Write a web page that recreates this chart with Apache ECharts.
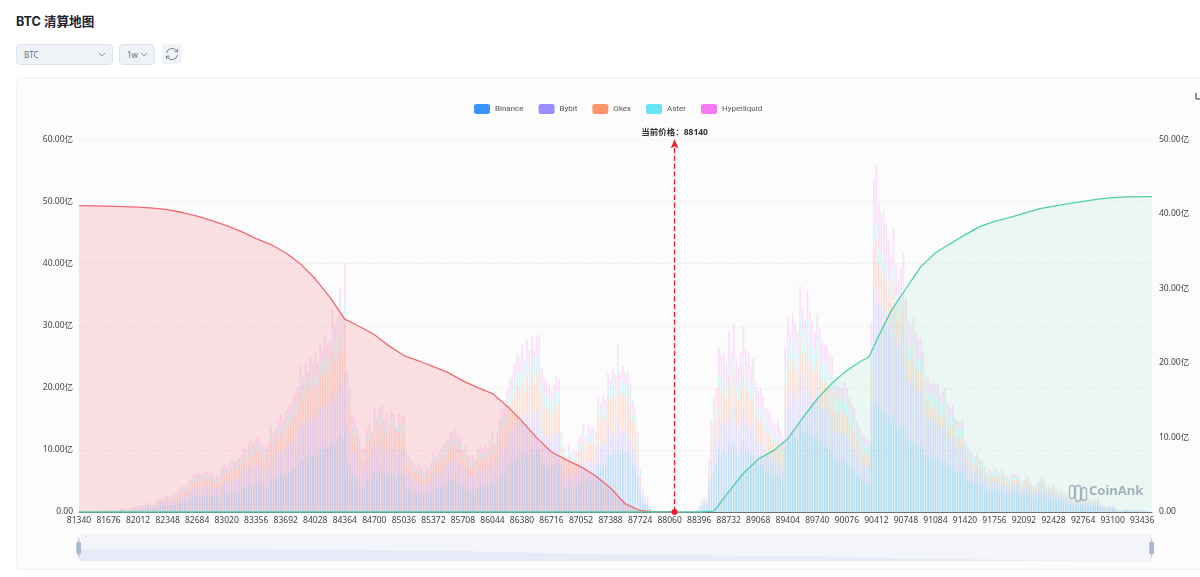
<!DOCTYPE html>
<html lang="zh-CN">
<head>
<meta charset="utf-8">
<title>BTC 清算地图</title>
<script src="https://cdn.jsdelivr.net/npm/echarts@6/dist/echarts.min.js"></script>
<style>
    html, body { margin: 0; padding: 0; background: #fff; overflow: hidden; }
    body { width: 1200px; height: 577px; position: relative; font-family: "Noto Sans", "Noto Sans CJK SC", sans-serif; }
    h1 { position: absolute; left: 16px; top: 13px; margin: 0; font-size: 12.6px; line-height: 18px; font-weight: 700; color: #1a2233; font-family: Inter, "Noto Sans CJK SC", sans-serif; }
    .pick { position: absolute; top: 44px; height: 19px; box-sizing: content-box; background: #eff2f6; border: 1px solid #dde4ee; border-radius: 4px; color: #5f6f88; font-size: 8px; line-height: 19px; }
    .pick span { position: absolute; left: 7px; }
    .pick svg { position: absolute; right: 6px; top: 7px; }
    #coin { left: 16px; width: 95px; }
    #period { left: 119px; width: 34px; }
    #refresh { position: absolute; left: 162px; top: 44px; width: 20px; height: 20px; background: #eff2f6; border-radius: 4px; }
    #card { position: absolute; left: 16px; top: 77px; width: 1200px; height: 491px; background: #fcfcfd; border: 1px solid #f1f2f4; border-radius: 6px; }
    #chart { position: absolute; left: 0; top: 0; width: 1200px; height: 577px; }
</style>
</head>
<body>
<h1>BTC 清算地图</h1>
<div class="pick" id="coin"><span>BTC</span><svg width="8" height="5" viewBox="0 0 8 5"><path d="M1 1l3 3 3-3" fill="none" stroke="#8a97aa"/></svg></div>
<div class="pick" id="period"><span>1w</span><svg width="8" height="5" viewBox="0 0 8 5"><path d="M1 1l3 3 3-3" fill="none" stroke="#8a97aa"/></svg></div>
<div id="refresh"><svg width="20" height="20" viewBox="0 0 20 20"><path d="M4.5 9a5.6 5.6 0 0 1 9.8-2.6l1 1.2M15.5 11a5.6 5.6 0 0 1-9.8 2.6l-1-1.2M15.5 4.8v3h-3M4.5 15.2v-3h3" fill="none" stroke="#66758c" stroke-width="0.9"/></svg></div>
<div id="card"></div>
<div id="chart"></div>
<script>
// Bars: one row per x label step (12 price levels), unit 0.1亿
const binance = [
    0,0,1,1,0,1,1,1,1,1,1,1,
    2,1,2,1,2,3,3,2,2,3,4,5,
    4,5,5,7,6,6,6,7,9,10,9,10,
    11,10,11,12,13,15,17,16,18,21,23,24,
    25,25,24,26,26,25,26,23,24,23,29,31,
    29,31,34,33,32,35,37,42,40,45,46,44,
    47,49,44,42,40,45,56,51,54,58,62,58,
    62,65,67,70,72,76,88,82,90,86,94,90,
    96,92,102,100,106,104,104,118,110,116,124,118,
    132,84,76,60,58,53,47,40,42,52,55,50,
    66,60,65,67,59,63,55,65,62,53,62,60,
    61,39,36,33,31,29,30,28,26,29,27,32,
    39,35,38,40,44,45,47,52,51,54,49,47,
    40,43,36,35,37,34,40,42,39,43,41,46,
    50,43,49,56,61,63,72,78,80,86,90,88,
    94,86,97,92,99,91,99,100,82,76,74,72,
    70,74,80,78,48,40,35,42,37,39,38,46,
    48,55,46,54,52,54,50,76,71,78,74,93,
    90,96,93,112,94,99,95,96,88,76,72,56,
    32,18,12,12,5,0,0,0,0,0,0,0,
    0,0,0,0,0,0,0,0,0,0,0,2,
    4,9,11,10,36,58,72,78,100,97,99,92,
    110,99,114,95,90,98,114,100,97,90,94,80,
    75,77,71,65,64,61,57,56,58,53,47,104,
    122,113,125,119,113,142,129,121,139,125,118,113,
    125,115,107,105,106,100,98,84,81,82,80,84,
    79,74,70,67,59,55,50,49,47,46,110,170,
    175,165,162,163,157,150,142,155,138,130,136,143,
    125,115,112,116,110,107,108,102,88,90,85,87,
    85,85,80,82,84,75,72,74,66,65,64,67,
    55,51,48,47,45,47,43,42,37,33,35,34,
    36,34,32,35,31,29,27,31,31,31,30,24,
    26,30,28,24,21,23,25,29,27,21,23,20,
    23,19,17,18,15,14,12,11,10,12,11,11,
    12,11,12,10,9,11,12,8,6,5,4,5,
    6,4,2,1,2,3,3,2,1,2,2,2,
    2,1,1,0,0
];
const bybit = [
    0,0,0,0,0,0,0,1,0,0,1,1,
    1,1,1,1,1,1,2,1,1,2,2,2,
    3,3,3,4,4,4,3,4,5,6,6,6,
    6,6,7,8,8,10,10,10,11,13,14,15,
    16,15,15,16,16,15,16,14,15,14,18,19,
    18,19,21,20,20,22,23,26,25,28,29,27,
    29,30,27,26,25,28,34,32,34,37,39,37,
    41,43,44,47,48,51,59,55,60,57,63,60,
    63,60,67,65,70,66,68,78,74,76,84,78,
    92,56,50,38,37,34,30,25,26,33,35,32,
    42,37,41,43,37,40,35,41,39,34,39,38,
    39,25,23,21,20,18,19,18,16,18,17,20,
    25,22,24,25,28,28,30,33,32,34,30,30,
    25,27,23,22,23,21,25,26,25,27,26,29,
    32,27,32,36,39,41,47,50,51,55,58,56,
    60,55,62,59,64,58,63,64,52,48,47,46,
    44,46,49,48,29,24,20,25,21,22,22,27,
    25,29,24,28,27,27,26,36,34,36,34,42,
    31,33,32,38,32,34,33,33,30,26,24,19,
    11,6,4,4,2,0,0,0,0,0,0,0,
    0,0,0,0,0,0,0,0,0,0,0,1,
    1,3,4,4,15,26,33,36,47,45,46,43,
    52,47,54,45,42,46,54,47,46,42,44,38,
    35,36,33,30,30,28,26,26,27,24,22,60,
    70,65,72,68,65,81,74,69,79,71,67,65,
    71,66,61,60,60,57,56,47,45,46,45,47,
    44,41,39,37,33,31,28,27,26,26,68,190,
    190,172,168,170,163,154,147,162,145,136,142,150,
    110,97,95,98,90,87,87,80,64,65,60,61,
    58,58,52,54,55,48,46,47,40,39,38,40,
    27,24,22,21,20,21,19,18,16,13,15,14,
    15,14,13,14,13,12,11,13,13,13,12,10,
    11,13,12,10,9,10,11,13,12,9,10,9,
    10,8,7,8,6,6,5,4,4,5,4,5,
    5,4,5,4,4,5,5,3,3,2,2,2,
    2,2,1,1,1,1,1,1,1,1,1,1,
    1,1,0,0,0
];
const okex = [
    0,0,0,0,0,0,0,0,0,0,0,0,
    0,0,0,0,0,1,1,1,1,1,1,2,
    1,1,2,2,2,2,2,3,3,4,4,4,
    4,4,5,5,6,7,7,7,8,9,10,10,
    11,11,10,11,12,11,11,10,10,10,13,14,
    13,14,15,15,14,16,16,19,18,20,21,20,
    21,22,20,19,18,20,25,23,24,27,29,27,
    30,32,33,35,36,38,45,41,46,43,48,46,
    49,46,52,50,55,52,53,65,58,61,72,63,
    80,44,38,28,27,24,22,18,19,24,25,23,
    30,27,30,31,27,29,25,30,28,24,28,27,
    28,18,16,15,14,13,14,13,12,13,12,14,
    18,16,17,18,20,20,21,23,23,24,22,21,
    18,19,16,16,17,15,18,19,18,19,18,21,
    25,21,25,30,33,35,41,45,47,51,55,54,
    58,53,60,56,61,56,61,62,50,46,45,44,
    42,44,47,46,28,22,19,23,20,21,21,25,
    28,32,27,32,31,31,30,43,39,43,41,52,
    56,60,58,70,58,60,58,59,54,47,44,33,
    16,10,6,6,2,0,0,0,0,0,0,0,
    0,0,0,0,0,0,0,0,0,0,0,0,
    2,4,5,4,18,31,39,42,55,53,54,50,
    58,52,60,50,47,52,60,52,51,47,50,42,
    38,40,37,33,33,31,29,28,29,27,24,43,
    50,46,51,49,46,58,53,50,57,51,48,46,
    51,47,44,43,43,41,40,33,32,33,32,33,
    32,29,28,27,24,22,20,20,19,18,50,75,
    75,62,60,60,56,52,48,54,47,42,44,47,
    42,36,35,37,33,32,32,29,24,24,22,23,
    22,22,20,20,21,18,17,18,15,15,14,15,
    13,12,11,11,10,11,9,9,8,7,7,7,
    9,8,8,9,8,7,7,8,8,8,8,6,
    8,9,8,7,6,6,7,8,8,6,6,6,
    6,5,5,5,4,4,3,3,3,3,3,3,
    3,3,3,3,2,3,3,2,1,1,1,1,
    1,1,1,0,0,1,1,0,0,1,0,0,
    1,0,0,0,0
];
const aster = [
    0,0,0,0,0,0,0,0,0,0,0,0,
    0,0,0,0,0,0,0,0,0,0,1,1,
    1,1,1,1,1,1,1,1,2,2,2,2,
    2,2,2,3,3,3,4,4,4,4,5,5,
    5,5,5,5,5,5,5,5,5,4,6,6,
    6,6,7,6,6,7,7,8,8,9,9,9,
    9,10,9,8,8,9,11,10,11,12,13,12,
    13,14,14,15,15,16,19,18,20,18,20,19,
    21,20,23,22,23,22,23,29,26,28,32,27,
    40,20,17,13,12,11,10,8,8,11,12,11,
    14,12,14,14,12,13,11,14,13,11,13,13,
    13,8,7,7,6,6,6,5,5,6,6,7,
    8,7,8,8,9,9,10,11,11,11,10,10,
    8,9,7,7,7,7,8,8,8,9,8,9,
    10,9,11,13,14,15,17,19,20,22,24,24,
    26,24,27,25,27,25,27,28,22,21,20,20,
    18,19,20,20,12,9,8,10,8,9,8,10,
    11,12,10,12,11,12,11,15,14,15,14,18,
    20,21,20,24,20,21,20,21,19,16,15,12,
    6,3,2,2,1,0,0,0,0,0,0,0,
    0,0,0,0,0,0,0,0,0,0,0,0,
    1,2,2,1,6,10,13,14,18,18,18,17,
    20,18,21,18,16,18,21,18,18,16,17,15,
    14,14,13,12,12,11,10,10,10,9,8,28,
    33,30,34,32,30,39,35,33,38,34,32,30,
    34,31,29,28,29,27,26,22,21,21,21,22,
    21,19,18,18,15,14,13,13,12,12,27,27,
    28,26,25,25,24,22,21,23,20,19,20,21,
    25,22,21,22,20,19,19,18,16,17,16,16,
    18,18,17,17,18,16,15,16,14,14,14,14,
    12,11,10,9,9,9,8,8,7,6,6,6,
    6,6,5,6,5,5,4,4,5,4,4,4,
    4,4,4,3,3,3,4,4,4,3,3,3,
    3,3,3,3,3,2,2,2,2,2,2,2,
    2,2,2,2,2,2,2,2,1,1,1,1,
    1,1,0,0,0,0,0,0,0,0,0,0,
    0,0,0,0,0
];
const hyperliquid = [
    0,0,0,0,0,0,0,0,0,0,0,0,
    0,0,0,0,0,0,0,0,0,0,0,0,
    0,0,0,1,1,0,0,1,1,1,1,2,
    3,2,2,2,3,3,4,4,4,5,6,7,
    6,6,6,6,7,6,6,6,6,6,6,7,
    7,8,8,8,8,8,9,11,10,10,10,10,
    12,11,10,11,9,10,13,12,12,14,15,16,
    16,16,16,17,19,19,24,22,24,22,25,23,
    26,22,26,25,30,26,27,37,32,34,48,34,
    56,21,19,16,14,13,11,9,10,12,13,12,
    16,14,15,17,15,15,14,15,16,13,16,14,
    14,8,8,6,7,6,6,6,5,6,6,7,
    8,8,9,9,9,10,10,11,11,12,11,10,
    9,10,8,8,8,8,9,10,8,10,9,10,
    13,10,13,15,18,18,21,23,24,26,28,28,
    30,27,32,30,33,30,33,32,26,24,24,23,
    21,22,24,23,13,10,8,10,9,9,9,12,
    13,15,13,14,14,14,13,18,17,18,17,20,
    18,20,19,28,21,21,19,19,17,15,15,10,
    5,3,2,2,0,0,0,0,0,0,0,0,
    0,0,0,0,0,0,0,0,0,0,0,0,
    0,2,3,3,12,22,27,30,45,42,43,38,
    52,44,54,42,40,44,51,45,44,40,43,35,
    33,33,31,28,27,27,24,23,24,22,19,33,
    38,36,38,37,36,44,39,37,43,39,38,36,
    39,36,32,32,32,30,30,24,23,23,22,24,
    22,21,20,19,16,16,15,13,14,13,50,73,
    90,72,68,69,65,59,55,64,50,46,53,55,
    43,38,37,40,36,34,34,31,24,24,23,23,
    23,23,21,22,22,19,18,17,15,14,14,14,
    8,7,7,7,6,7,6,6,4,4,5,4,
    5,4,4,4,4,3,3,4,4,4,4,3,
    3,4,4,3,3,3,3,4,3,3,3,2,
    3,3,2,2,2,2,2,1,1,1,1,1,
    2,1,1,1,1,1,1,1,1,1,0,1,
    1,0,0,0,0,0,0,0,0,0,0,0,
    0,0,0,0,0
];

// Cumulative lines (亿)
const longPrices = [81340,81508,81676,81844,82012,82180,82348,82516,82684,82852,83020,83188,83356,83524,83692,83860,84028,84196,84364,84532,84700,84868,85036,85204,85372,85540,85708,85876,86044,86212,86380,86548,86716,86884,87052,87220,87388,87556,87724,87892,88060,88144];
const longValues = [41.13,41.1,41.06,41,40.93,40.8,40.6,40.2,39.7,39.1,38.44,37.63,36.7,35.9,34.8,33.3,31.3,28.8,25.9,24.9,23.8,22.3,21,20.3,19.5,18.7,17.6,16.7,15.9,14.2,12.2,9.95,8.06,7,6.05,4.84,3.23,1.08,0.2,0,0,0];
const shortPrices = [81340,88396,88564,88732,88900,89068,89236,89404,89572,89740,89908,90076,90244,90328,90412,90580,90748,90916,91084,91252,91420,91588,91756,91924,92092,92260,92428,92596,92764,92932,93100,93268,93436,93548];
const shortValues = [0,0,0.13,2.7,5.2,7.1,8.2,9.8,12.6,15.2,17.3,19,20.3,20.8,23,27,30,32.9,34.8,36,37.2,38.3,39,39.5,40.1,40.7,41.06,41.4,41.7,42,42.2,42.3,42.33,42.33];

const categories = Array.from({ length: binance.length }, (_, i) => String(81340 + i * 28));
const leftTicks = 60;
const rightTicks = 50;
const currentPrice = 88140;
const currentCategory = '88116';

const fontName = '"Noto Sans", "Noto Sans CJK SC", sans-serif';
const chartDom = document.getElementById('chart');
const myChart = echarts.init(chartDom);

function yiLabel(value) {
    return value === 0 ? '0.00' : value.toFixed(2) + '亿';
}

function barSeries(name, values, color, opacity) {
    return {
        name: name,
        type: 'bar',
        stack: 'liq',
        barWidth: 1.7,
        silent: true,
        itemStyle: { color: color, opacity: opacity },
        data: values.map(v => v / 10)
    };
}

// Slider shadow follows the long cumulative line, stretched over the slider width
const sliderLeft = 79, sliderWidth = 1073, sliderTop = 535, sliderHeight = 26;
const shadowPoints = longValues.map((v, i) => [
    sliderLeft + sliderWidth * i / (longValues.length - 1),
    sliderTop + sliderHeight - v / longValues[0] * 12
]);
shadowPoints.push([sliderLeft + sliderWidth, sliderTop + sliderHeight], [sliderLeft, sliderTop + sliderHeight]);

const option = {
    animation: false,
    textStyle: { fontFamily: fontName },
    legend: {
        left: 469,
        top: 99,
        icon: 'roundRect',
        itemWidth: 16,
        itemHeight: 10,
        itemGap: 15,
        itemStyle: { opacity: 1 },
        textStyle: { fontSize: 8, color: '#555', fontFamily: 'Roboto' },
        data: ['Binance', 'Bybit', 'Okex', 'Aster', 'Hyperliquid']
    },
    grid: { left: 79, right: 48, top: 139.5, bottom: 65 },
    xAxis: {
        type: 'category',
        data: categories,
        boundaryGap: false,
        axisLine: { lineStyle: { color: '#6e7079' } },
        axisTick: { show: false },
        axisLabel: { interval: 11, fontSize: 8.5, color: '#444', margin: 4, fontFamily: fontName }
    },
    yAxis: [{
        type: 'value',
        min: 0,
        max: leftTicks,
        interval: 10,
        axisLabel: { fontSize: 8.5, color: '#444', margin: 6, formatter: yiLabel, fontFamily: fontName },
        splitLine: { lineStyle: { color: '#f1f1f2', type: 'dashed' } }
    }, {
        type: 'value',
        min: 0,
        max: rightTicks,
        interval: 10,
        axisLabel: { fontSize: 8.5, color: '#444', margin: 7, formatter: yiLabel, fontFamily: fontName },
        splitLine: { show: false }
    }],
    dataZoom: [{
        type: 'slider',
        xAxisIndex: 0,
        start: 0,
        end: 100,
        left: 77,
        right: 48,
        top: sliderTop,
        height: sliderHeight,
        brushSelect: false,
        showDetail: false,
        showDataShadow: false,
        borderColor: 'transparent',
        backgroundColor: 'transparent',
        fillerColor: 'transparent',
        handleSize: '72%',
        handleStyle: { color: '#a9b8d0', borderColor: '#a9b8d0' },
        moveHandleSize: 0
    }],
    graphic: [
        { type: 'rect', left: sliderLeft, top: sliderTop, z: 1, shape: { width: sliderWidth, height: sliderHeight }, style: { fill: '#f4f5fb' } },
        { type: 'polygon', z: 2, shape: { points: shadowPoints }, style: { fill: '#e7ebf8' } },
        { type: 'polyline', z: 20, shape: { points: [[1196, 93], [1196, 99], [1206, 99], [1206, 93]] }, style: { fill: 'none', stroke: '#333', lineWidth: 1 } },
        { type: 'polyline', z: 20, shape: { points: [[1200, 91], [1203, 88], [1206, 91]] }, style: { fill: 'none', stroke: '#333', lineWidth: 1 } },
        { type: 'rect', left: 1067, top: 483, z: 20, shape: { width: 5, height: 13, r: 2.5 }, style: { fill: 'none', stroke: '#8796a5', lineWidth: 1.3, opacity: 0.7 } },
        { type: 'rect', left: 1073, top: 483, z: 20, shape: { width: 5, height: 16, r: 2.5 }, style: { fill: 'none', stroke: '#8796a5', lineWidth: 1.3, opacity: 0.7 } },
        { type: 'rect', left: 1079, top: 485, z: 20, shape: { width: 5, height: 13, r: 2.5 }, style: { fill: 'none', stroke: '#8796a5', lineWidth: 1.3, opacity: 0.7 } },
        { type: 'text', left: 1089, top: 485, z: 20, style: { text: 'CoinAnk', font: '700 13px ' + fontName, fill: '#a3b0ba' } }
    ],
    series: [{
        name: '多单累计',
        type: 'line',
        yAxisIndex: 1,
        z: 3,
        symbol: 'none',
        silent: true,
        lineStyle: { color: '#ef6a6f', width: 1.3 },
        areaStyle: { color: 'rgba(239,90,100,0.25)' },
        data: longPrices.map((p, i) => [String(p), longValues[i]])
    }, {
        name: '空单累计',
        type: 'line',
        yAxisIndex: 1,
        z: 3,
        symbol: 'none',
        silent: true,
        lineStyle: { color: '#4fd0a3', width: 1.3 },
        areaStyle: { color: 'rgba(60,200,145,0.13)' },
        data: shortPrices.map((p, i) => [String(p), shortValues[i]]),
        markLine: {
            silent: true,
            animation: false,
            symbol: ['circle', 'arrow'],
            symbolSize: [6, 9],
            lineStyle: { color: '#ee1c2e', type: 'dashed', width: 1.3 },
            label: {
                position: 'end',
                formatter: '当前价格：' + currentPrice,
                fontSize: 8.5,
                fontWeight: 'bold',
                color: '#333',
                distance: 3,
                fontFamily: fontName
            },
            data: [[{ coord: [currentCategory, 0] }, { coord: [currentCategory, rightTicks] }]]
        }
    },
    barSeries('Binance', binance, '#3a94ff', 0.29),
    barSeries('Bybit', bybit, '#9b8cff', 0.26),
    barSeries('Okex', okex, '#ff9468', 0.26),
    barSeries('Aster', aster, '#67e4f5', 0.26),
    barSeries('Hyperliquid', hyperliquid, '#f579f0', 0.22)]
};
myChart.setOption(option);
</script>
</body>
</html>
